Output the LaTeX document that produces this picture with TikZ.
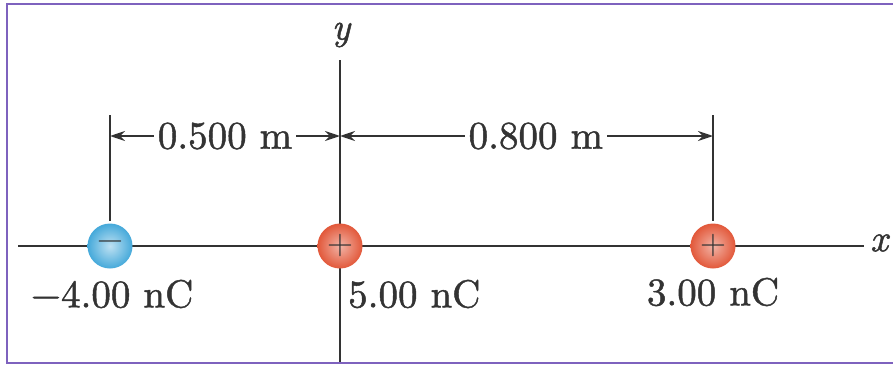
\documentclass[tikz,border=0pt]{standalone}
\usepackage{fontspec}
\usepackage{xcolor}
\usetikzlibrary{arrows.meta,positioning}
\newfontfamily\lblfont{lmroman10-regular.otf}[FakeBold=1.2]
\newfontfamily\axfont{lmroman10-italic.otf}[FakeBold=1.2]
\definecolor{frm}{HTML}{7E62BE}
\definecolor{ink}{HTML}{333333}
\definecolor{qneg}{HTML}{45A9DA}
\definecolor{qpos}{HTML}{E2583A}
\tikzset{
  frame/.style={draw=frm, line width=2.5pt},
  axis/.style={draw=ink, line width=2.4pt},
  tick/.style={draw=ink, line width=2.2pt},
  dim/.style={{Stealth[length=15pt,width=10pt]}-{Stealth[length=15pt,width=10pt]}, draw=ink, line width=2.2pt},
  lbl/.style={font=\lblfont\fontsize{39}{46}\selectfont, text=ink, inner sep=2pt},
  axlbl/.style={font=\axfont\fontsize{38}{42}\selectfont, text=ink, inner sep=2pt},
  dimlbl/.style={lbl, fill=white, inner xsep=4pt, inner ysep=1pt},
  charge/.style={circle, minimum size=45pt, inner sep=0pt, shading=radial, font=\fontsize{36}{36}\selectfont, text=ink},
}

\begin{document}
\begin{tikzpicture}[x=1pt,y=-1pt]
  \useasboundingbox (0,0) rectangle (893,367);
  \draw[frame] (893,4) -- (7,4) -- (7,363) -- (893,363);
  % axes
  \coordinate (xl) at (18,246);
  \coordinate (xr) at (864,246);
  \coordinate (yt) at (340,60);
  \coordinate (yb) at (340,362);
  \draw[axis] (xl) -- (xr);
  \draw[axis] (yt) -- (yb);
  \node[axlbl, anchor=west] (xlab) at (868,243) {x};
  \node[axlbl] (ylab) at (341,35) {y};
  % charges
  \node[charge, inner color=qneg!35, outer color=qneg] (q1) at (110,246) {−};
  \node[charge, inner color=qpos!45!white, outer color=qpos] (q2) at (340,246) {+};
  \node[charge, inner color=qpos!45!white, outer color=qpos] (q3) at (713,246) {+};
  \node[lbl] (l1) at (112,294) {−4.00 nC};
  \node[lbl, anchor=west] (l2) at (346,294) {5.00 nC};
  \node[lbl] (l3) at (713,292) {3.00 nC};
  % distances
  \coordinate (t1) at (110,115);
  \coordinate (t3) at (713,115);
  \draw[tick] (t1) -- ([yshift=2pt]q1.north);
  \draw[tick] (t3) -- ([yshift=2pt]q3.north);
  \coordinate (d1) at (110,136);
  \coordinate (d2) at (340,136);
  \coordinate (d3) at (713,136);
  \draw[dim] (d1) -- node[dimlbl] (m1) {0.500 m} (d2);
  \draw[dim] (d2) -- node[dimlbl, pos=0.525] (m2) {0.800 m} (d3);
\end{tikzpicture}
\end{document}
